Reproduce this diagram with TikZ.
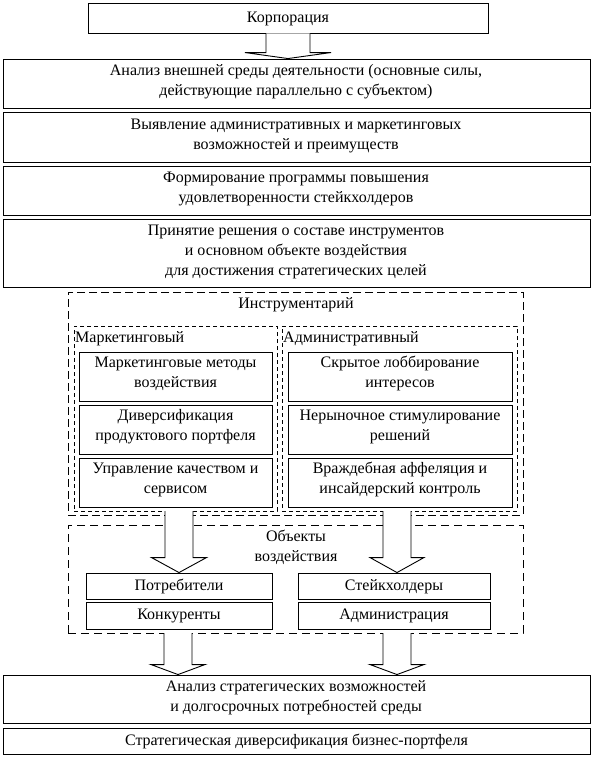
\documentclass[tikz,border=0pt]{standalone}
\usepackage{fontspec}
\setmainfont{Liberation Serif}
\usetikzlibrary{fit,calc}
\tikzset{
  frame/.style={draw, line width=0.9pt, inner sep=0pt},
  bigdash/.style={draw, line width=0.9pt, inner sep=0pt, dash pattern=on 8pt off 4pt},
  smalldash/.style={draw, line width=0.9pt, inner sep=0pt, dash pattern=on 4pt off 3pt},
  objdash/.style={draw, line width=0.9pt, inner sep=0pt, dash pattern=on 8pt off 5pt},
  txt/.style={inner sep=0pt, align=center, font=\fontsize{16}{20}\selectfont},
  toptxt/.style={txt, anchor=north, yshift=-2pt},
  blockarrow/.style={draw, fill=white, line width=0.9pt, line join=miter},
}
% #1 from, #2 to, #3 shaft half width, #4 head half width, #5 head length
\newcommand\blockarr[5]{%
  \draw[blockarrow] let \p1=(#1), \p2=(#2) in
    (\x1-#3,\y1) -- (\x1-#3,\y2+#5) -- (\x1-#4,\y2+#5) -- (\x1,\y2)
    -- (\x1+#4,\y2+#5) -- (\x1+#3,\y2+#5) -- (\x1+#3,\y1);
}
\begin{document}
\begin{tikzpicture}[x=1pt,y=-1pt]
\useasboundingbox (0,0) rectangle (592,758);
% main boxes
\node[frame, fit={(88,3) (488,33)}] (korp) {};
\node[txt] (korpt) at (korp.center) {\strut Корпорация};
\node[frame, fit={(3,59) (590,108)}] (b2) {};
\node[toptxt] (b2t) at (296,59.5) {\strut Анализ внешней среды деятельности (основные силы,\\действующие параллельно с субъектом)};
\node[frame, fit={(3,112) (590,162)}] (b3) {};
\node[toptxt] (b3t) at (296,113.5) {\strut Выявление административных и маркетинговых\\возможностей и преимуществ};
\node[frame, fit={(3,166) (590,215)}] (b4) {};
\node[toptxt] (b4t) at (296,166) {\strut Формирование программы повышения\\удовлетворенности стейкхолдеров};
\node[frame, fit={(3,219) (590,287)}] (b5) {};
\node[toptxt] (b5t) at (296,219) {\strut Принятие решения о составе инструментов\\и основном объекте воздействия\\для достижения стратегических целей};
% instruments
\node[bigdash, fit={(68,292) (523,515)}] (instr) {};
\node[toptxt] (instrt) at (296,292) {\strut Инструментарий};
\node[smalldash, fit={(74,326) (277,511)}] (mark) {};
\node[txt, anchor=north west, yshift=-2pt] (markt) at (75,326.5) {\strut Маркетинговый};
\node[smalldash, fit={(282,326) (517,511)}] (admg) {};
\node[txt, anchor=north west, yshift=-2pt] (admgt) at (283,326.5) {\strut Административный};
% left inner boxes
\node[frame, fit={(79,352) (272,401)}] (l1) {};
\node[toptxt] (l1t) at (l1.north) {\strut Маркетинговые методы\\воздействия};
\node[frame, fit={(79,405) (272,454)}] (l2) {};
\node[toptxt] (l2t) at (l2.north) {\strut Диверсификация\\продуктового портфеля};
\node[frame, fit={(79,458) (272,507)}] (l3) {};
\node[toptxt] (l3t) at (l3.north) {\strut Управление качеством и\\сервисом};
% right inner boxes
\node[frame, fit={(288,352) (512,401)}] (r1) {};
\node[toptxt] (r1t) at (r1.north) {\strut Скрытое лоббирование\\интересов};
\node[frame, fit={(288,405) (512,454)}] (r2) {};
\node[toptxt] (r2t) at (r2.north) {\strut Нерыночное стимулирование\\решений};
\node[frame, fit={(288,458) (512,507)}] (r3) {};
\node[toptxt] (r3t) at (r3.north) {\strut Враждебная аффеляция и\\инсайдерский контроль};
% objects
\node[objdash, fit={(68,525) (523,633)}] (obj) {};
\node[toptxt] (objt) at (296,525.5) {\strut Объекты\\воздействия};
\coordinate (m1) at (179,511);
\coordinate (m2) at (397,511);
\node[frame, fit={(86,573) (272,599)}] (potr) {};
\node[txt] (potrt) at (potr.center) {\strut Потребители};
\node[frame, fit={(86,602) (272,629)}] (konk) {};
\node[txt] (konkt) at (konk.center) {\strut Конкуренты};
\node[frame, fit={(298,573) (490,599)}] (steik) {};
\node[txt] (steikt) at (steik.center) {\strut Стейкхолдеры};
\node[frame, fit={(298,602) (490,629)}] (admo) {};
\node[txt] (admot) at (admo.center) {\strut Администрация};
% bottom boxes
\node[frame, fit={(3,675) (590,723)}] (b6) {};
\node[toptxt] (b6t) at (296,675) {\strut Анализ стратегических возможностей\\и долгосрочных потребностей среды};
\node[frame, fit={(3,728) (590,754)}] (b7) {};
\node[txt] (b7t) at (b7.center) {\strut Стратегическая диверсификация бизнес-портфеля};
\coordinate (k1) at (178,633);
\coordinate (k2) at (397,633);
% block arrows
\blockarr{korp.south}{b2.north}{22pt}{43pt}{6pt}
\blockarr{m1}{potr.north}{14pt}{27.5pt}{15pt}
\blockarr{m2}{steik.north}{14pt}{27pt}{15pt}
\blockarr{k1}{b6.north}{14pt}{27pt}{10pt}
\blockarr{k2}{b6.north}{14pt}{27pt}{10pt}
\end{tikzpicture}
\end{document}
